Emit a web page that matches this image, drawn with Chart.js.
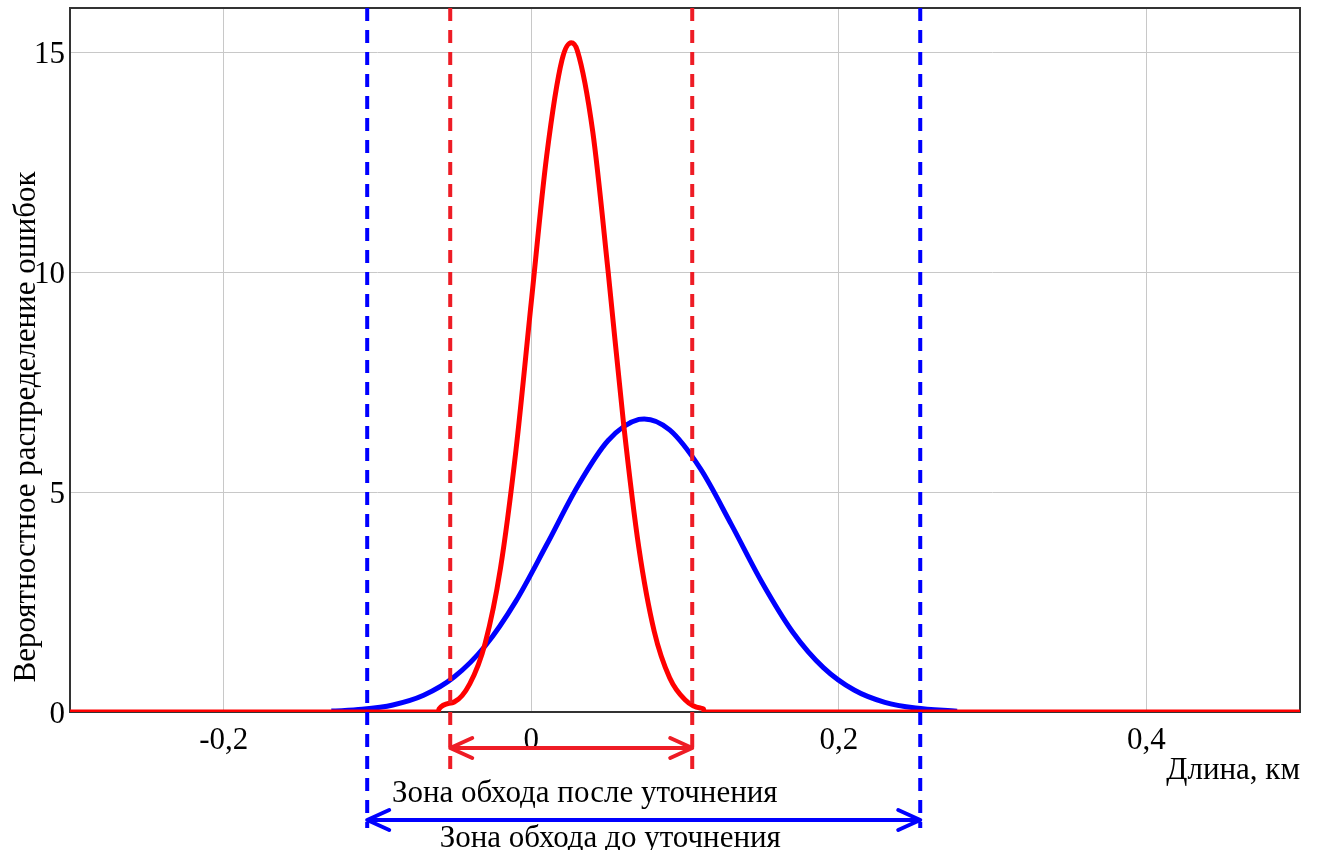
<!DOCTYPE html>
<html>
<head>
<meta charset="utf-8">
<script src="https://cdn.jsdelivr.net/npm/chart.js@4.4.1/dist/chart.umd.min.js"></script>
<style>
html,body{margin:0;padding:0;background:#ffffff;}
#wrap{width:1319px;height:850px;position:relative;}
</style>
</head>
<body>
<div id="wrap"><canvas id="c"></canvas></div>
<script>
// ---- data ----
const redX = [-0.3, -0.0605, -0.06, -0.05, -0.04, -0.03, -0.02, -0.01, 0, 0.01, 0.02, 0.026, 0.03, 0.04, 0.05, 0.06, 0.07, 0.08, 0.09, 0.10, 0.11, 0.112, 0.1125, 0.5];
const redY = [0, 0, 0.07, 0.23, 0.64, 1.56, 3.27, 5.93, 9.31, 12.63, 14.82, 15.21, 15.03, 13.19, 10.01, 6.57, 3.73, 1.83, 0.78, 0.28, 0.09, 0.07, 0, 0];
const blueX = [-0.13, -0.11, -0.09, -0.07, -0.05, -0.03, -0.01, 0.01, 0.03, 0.05, 0.07, 0.0735, 0.09, 0.11, 0.13, 0.15, 0.17, 0.19, 0.21, 0.23, 0.25, 0.277];
const blueY = [0.02, 0.06, 0.16, 0.38, 0.80, 1.50, 2.52, 3.80, 5.12, 6.17, 6.65, 6.66, 6.41, 5.53, 4.27, 2.95, 1.82, 1.01, 0.50, 0.22, 0.09, 0.02];
const xTickValues = [-0.2, 0, 0.2, 0.4];
const xTickLabels = ['-0,2', '0', '0,2', '0,4'];
const yTickValues = [0, 5, 10, 15];
const yTickLabels = ['0', '5', '10', '15'];
const xRange = [-0.3, 0.5];
const yRange = [0, 16];
const zoneAfter = [-0.0527, 0.1047];
const zoneBefore = [-0.1067, 0.253];
const xTitle = 'Длина, км';
const yTitle = 'Вероятностное распределение ошибок';
const zoneAfterLabel = 'Зона обхода после уточнения';
const zoneBeforeLabel = 'Зона обхода до уточнения';

// ---- styles ----
const FONT = '"Liberation Serif", "Times New Roman", serif';
const FS = 31;
const RED = '#ff0000';
const BLUE = '#0000ff';
const ZRED = '#ee1c25';

function pts(xs, ys) { return xs.map((v, i) => ({x: v, y: ys[i]})); }

function drawArrow(ctx, x1, x2, y, color) {
  ctx.save();
  ctx.strokeStyle = color;
  ctx.lineWidth = 4;
  ctx.lineCap = 'round';
  ctx.lineJoin = 'round';
  ctx.beginPath();
  ctx.moveTo(x1, y); ctx.lineTo(x2, y);
  ctx.moveTo(x1 + 22, y - 10); ctx.lineTo(x1, y); ctx.lineTo(x1 + 22, y + 10);
  ctx.moveTo(x2 - 22, y - 10); ctx.lineTo(x2, y); ctx.lineTo(x2 - 22, y + 10);
  ctx.stroke();
  ctx.restore();
}

function drawDashed(ctx, x, y1, y2, color) {
  ctx.save();
  ctx.strokeStyle = color;
  ctx.lineWidth = 4;
  ctx.setLineDash([13, 9]);
  ctx.beginPath();
  ctx.moveTo(x, y1); ctx.lineTo(x, y2);
  ctx.stroke();
  ctx.restore();
}

function noPad(s) { s.paddingTop = 0; s.paddingBottom = 0; s.paddingLeft = 0; s.paddingRight = 0; }

const annot = {
  id: 'annot',
  beforeDatasetsDraw(chart) {
    const {ctx, chartArea: a} = chart;
    ctx.save();
    ctx.strokeStyle = '#333333';
    ctx.lineWidth = 2;
    ctx.strokeRect(a.left, a.top, a.right - a.left, a.bottom - a.top);
    ctx.restore();
  },
  afterDatasetsDraw(chart) {
    const {ctx, chartArea: a, scales} = chart;
    const xs = scales.x;
    const ra = xs.getPixelForValue(zoneAfter[0]);
    const rb = xs.getPixelForValue(zoneAfter[1]);
    const ba = xs.getPixelForValue(zoneBefore[0]);
    const bb = xs.getPixelForValue(zoneBefore[1]);
    drawDashed(ctx, ra, a.top, 774, ZRED);
    drawDashed(ctx, rb, a.top, 774, ZRED);
    drawDashed(ctx, ba, a.top, 828, BLUE);
    drawDashed(ctx, bb, a.top, 828, BLUE);
    drawArrow(ctx, ra, rb, 748, ZRED);
    drawArrow(ctx, ba, bb, 820, BLUE);

    ctx.save();
    ctx.fillStyle = '#000000';
    ctx.font = FS + 'px ' + FONT;
    ctx.textAlign = 'center';
    ctx.textBaseline = 'alphabetic';
    ctx.fillText(zoneAfterLabel, xs.getPixelForValue(0.0348), 802);
    ctx.fillText(zoneBeforeLabel, xs.getPixelForValue(0.0514), 847);
    ctx.translate(27, 427);
    ctx.rotate(-Math.PI / 2);
    ctx.textBaseline = 'middle';
    ctx.fillText(yTitle, 0, 0);
    ctx.restore();
  }
};

new Chart(document.getElementById('c'), {
  type: 'line',
  data: {
    datasets: [
      {data: pts(redX, redY), borderColor: RED, borderWidth: 5, pointRadius: 0, cubicInterpolationMode: 'monotone', fill: false},
      {data: pts(blueX, blueY), borderColor: BLUE, borderWidth: 5, pointRadius: 0, cubicInterpolationMode: 'monotone', fill: false}
    ]
  },
  options: {
    responsive: true,
    maintainAspectRatio: false,
    animation: false,
    events: [],
    layout: {padding: {left: 0, right: 19, top: 8, bottom: 0}},
    plugins: {legend: {display: false}, tooltip: {enabled: false}},
    scales: {
      x: {
        type: 'linear', min: xRange[0], max: xRange[1],
        afterFit(s) { s.height = 138; noPad(s); },
        afterBuildTicks(s) { s.ticks = xTickValues.map(v => ({value: v})); },
        ticks: {
          callback(v) { const i = xTickValues.indexOf(v); return i >= 0 ? xTickLabels[i] : ''; },
          font: {family: FONT, size: FS}, color: '#000000', padding: 10, maxRotation: 0, autoSkip: false
        },
        grid: {color: '#c8c8c8', lineWidth: 1, drawTicks: false},
        border: {display: false},
        title: {display: true, text: xTitle, align: 'end', font: {family: FONT, size: FS}, color: '#000000', padding: {top: 0, bottom: 61}}
      },
      y: {
        type: 'linear', min: yRange[0], max: yRange[1],
        afterFit(s) { s.width = 70; noPad(s); },
        afterBuildTicks(s) { s.ticks = yTickValues.map(v => ({value: v})); },
        ticks: {
          callback(v) { const i = yTickValues.indexOf(v); return i >= 0 ? yTickLabels[i] : ''; },
          font: {family: FONT, size: FS}, color: '#000000', padding: 5, labelOffset: 3
        },
        grid: {color: '#c8c8c8', lineWidth: 1, drawTicks: false},
        border: {display: false}
      }
    }
  },
  plugins: [annot]
});
</script>
</body>
</html>
